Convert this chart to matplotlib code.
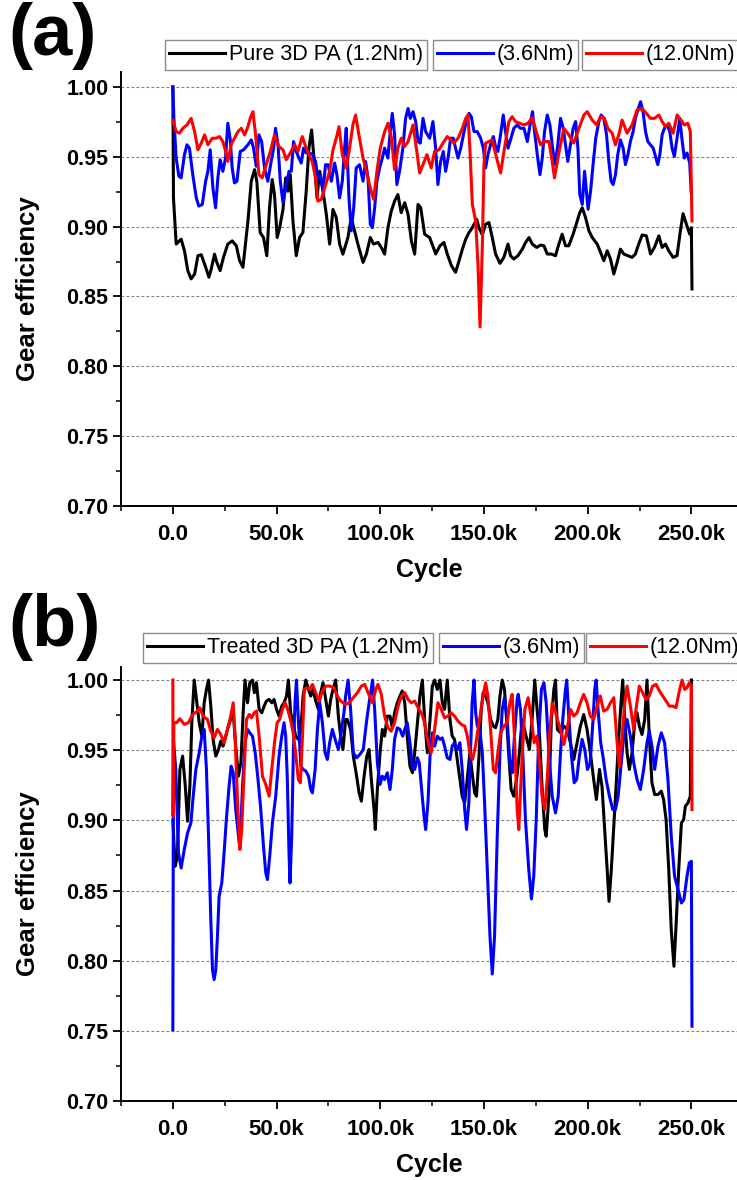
import numpy as np
import matplotlib
matplotlib.use("Agg")
import matplotlib.pyplot as plt
from matplotlib.ticker import MultipleLocator, FuncFormatter

plt.rcParams['font.family'] = ['Liberation Sans', 'DejaVu Sans']

# ---------------- (a) Pure 3D PA ----------------
a_black_k = [0.0, 0.3, 1.6, 3.2, 4.0, 5.6, 7.2, 8.8, 10.5, 12.1, 13.7, 15.3, 17.4, 18.5, 20.1, 21.2,
             22.8, 24.4, 26.5, 28.6, 30.6, 32.2, 33.8, 36.2, 37.8, 39.4, 40.5, 42.1, 43.7, 45.3, 46.6,
             47.9, 49.0, 50.3, 51.5, 53.1, 54.4, 55.5, 56.6, 57.9, 59.5, 61.1, 62.7, 64.3, 65.6, 66.9,
             68.3, 69.5, 70.8, 72.4, 74.0, 75.6, 77.2, 78.8, 80.4, 82.0, 84.4, 86.0, 87.6, 89.2, 91.7,
             93.3, 95.2, 96.8, 98.9, 100.5, 102.1, 103.7, 105.3, 106.9, 108.5, 110.1, 111.8, 113.4,
             115.0, 116.6, 118.2, 119.5, 121.4, 123.8, 126.2, 126.7, 128.8, 130.7, 132.3, 134.3, 136.3,
             138.0, 139.6, 141.2, 142.8, 144.4, 146.5, 147.6, 149.2, 150.8, 152.4, 154.0, 155.6, 157.7,
             159.6, 161.6, 162.8, 164.4, 166.4, 168.5, 170.1, 171.7, 173.3, 175.4, 177.3, 178.9, 180.5,
             182.4, 184.5, 186.1, 187.7, 189.3, 190.9, 193.0, 195.0, 196.2, 197.4, 199.0, 200.6, 202.2,
             204.6, 206.5, 207.8, 209.4, 211.0, 212.6, 214.2, 215.8, 217.4, 219.4, 221.4, 223.0, 224.6,
             226.3, 228.3, 230.3, 232.2, 234.3, 235.9, 237.5, 239.1, 241.2, 243.1, 244.7, 246.0, 247.6,
             249.2, 250.0, 250.3]
a_black = [1.000, 0.9206, 0.8875, 0.8898, 0.8910, 0.8827, 0.8685, 0.8626, 0.8661, 0.8792, 0.8799,
           0.8732, 0.8638, 0.8697, 0.8803, 0.8744, 0.8685, 0.8780, 0.8875, 0.8898, 0.8863, 0.8756,
           0.8709, 0.9040, 0.9325, 0.9408, 0.9325, 0.8958, 0.8922, 0.8792, 0.9135, 0.9337, 0.9230,
           0.8922, 0.8993, 0.9123, 0.9349, 0.9254, 0.9372, 0.9040, 0.8792, 0.8922, 0.8958, 0.9254,
           0.9562, 0.9692, 0.9443, 0.9206, 0.9396, 0.9254, 0.9088, 0.8875, 0.9123, 0.9064, 0.8875,
           0.8803, 0.8922, 0.9064, 0.8970, 0.8875, 0.8744, 0.8803, 0.8922, 0.8875, 0.8887, 0.8851,
           0.8803, 0.8993, 0.9111, 0.9182, 0.9230, 0.9100, 0.9171, 0.9088, 0.8898, 0.8803, 0.9159,
           0.9135, 0.8946, 0.8922, 0.8827, 0.8804, 0.8863, 0.8887, 0.8804, 0.8721, 0.8673, 0.8756,
           0.8839, 0.8910, 0.8958, 0.8993, 0.9052, 0.8993, 0.8941, 0.9017, 0.9029, 0.8922, 0.8804,
           0.8737, 0.8780, 0.8875, 0.8792, 0.8768, 0.8792, 0.8839, 0.8887, 0.8922, 0.8875, 0.8851,
           0.8868, 0.8863, 0.8804, 0.8804, 0.8792, 0.8875, 0.8946, 0.8863, 0.8863, 0.8946, 0.9041,
           0.9100, 0.9135, 0.9064, 0.8970, 0.8922, 0.8875, 0.8804, 0.8756, 0.8827, 0.8768, 0.8661,
           0.8744, 0.8839, 0.8804, 0.8792, 0.8780, 0.8804, 0.8875, 0.8941, 0.8934, 0.8804, 0.8851,
           0.8934, 0.8851, 0.8875, 0.8827, 0.8780, 0.8792, 0.8970, 0.9093, 0.9017, 0.8946, 0.8993,
           0.8554]

a_blue_k = [0.0, 0.5, 1.6, 2.9, 4.0, 5.6, 6.8, 8.0, 9.6, 11.3, 12.5, 14.2, 15.8, 16.9, 18.0, 19.3,
            20.6, 21.7, 22.8, 24.1, 25.4, 26.5, 27.7, 28.6, 29.7, 30.9, 32.5, 34.1, 36.2, 37.8, 38.9,
            40.2, 41.5, 42.8, 44.2, 45.8, 47.4, 48.6, 49.5, 50.7, 51.8, 53.1, 54.4, 56.0, 57.1, 58.2,
            59.5, 60.8, 61.9, 63.0, 64.3, 65.9, 67.5, 68.8, 69.9, 71.1, 72.4, 73.6, 74.9, 76.4, 78.0,
            79.1, 80.4, 81.7, 82.8, 83.6, 84.9, 86.0, 87.2, 88.4, 90.0, 91.7, 92.9, 94.1, 95.2, 96.2,
            97.3, 98.4, 99.7, 101.0, 102.1, 103.7, 104.8, 105.8, 106.9, 108.0, 109.3, 110.9, 112.2,
            113.4, 114.5, 115.8, 117.1, 118.2, 119.3, 120.6, 121.9, 123.8, 125.4, 126.7, 127.8, 129.1,
            130.4, 131.5, 132.7, 133.9, 135.2, 136.3, 137.5, 138.8, 140.4, 141.6, 142.8, 143.9, 145.2,
            146.8, 148.4, 149.7, 150.8, 151.9, 153.2, 154.5, 155.6, 156.7, 158.0, 159.3, 160.4, 161.6,
            162.8, 164.4, 166.0, 167.6, 169.3, 170.9, 172.2, 173.4, 174.4, 175.7, 177.0, 178.1, 179.2,
            180.5, 181.8, 183.1, 184.4, 185.6, 186.9, 188.2, 189.3, 190.4, 191.7, 193.0, 194.2, 195.3,
            196.2, 197.4, 198.5, 199.4, 200.2, 201.4, 202.6, 203.9, 205.4, 206.5, 207.8, 209.1, 210.2,
            211.3, 212.3, 213.4, 214.5, 215.8, 217.1, 218.2, 219.4, 220.6, 221.9, 223.0, 224.2, 225.5,
            226.7, 227.9, 229.0, 230.3, 231.6, 232.7, 233.8, 234.8, 235.9, 237.0, 238.3, 239.6, 240.7,
            241.8, 243.1, 244.4, 245.5, 246.6, 247.9, 249.2, 249.9]
a_blue = [1.000, 0.9775, 0.9491, 0.9361, 0.9349, 0.9515, 0.9586, 0.9562, 0.9372, 0.9206, 0.9147,
          0.9159, 0.9325, 0.9396, 0.9550, 0.9277, 0.9135, 0.9349, 0.9479, 0.9396, 0.9491, 0.9740,
          0.9621, 0.9420, 0.9313, 0.9325, 0.9538, 0.9550, 0.9586, 0.9621, 0.9562, 0.9432, 0.9657,
          0.9609, 0.9420, 0.9325, 0.9467, 0.9562, 0.9704, 0.9586, 0.9325, 0.9171, 0.9277, 0.9396,
          0.9396, 0.9609, 0.9538, 0.9491, 0.9455, 0.9562, 0.9527, 0.9527, 0.9515, 0.9467, 0.9349,
          0.9372, 0.9254, 0.9443, 0.9443, 0.9325, 0.9455, 0.9372, 0.9206, 0.9325, 0.9562, 0.9704,
          0.9206, 0.8970, 0.9135, 0.9420, 0.9443, 0.9325, 0.9467, 0.9349, 0.9017, 0.8993, 0.9135,
          0.9325, 0.9420, 0.9491, 0.9562, 0.9491, 0.9680, 0.9811, 0.9657, 0.9301, 0.9396, 0.9562,
          0.9775, 0.9846, 0.9775, 0.9823, 0.9752, 0.9609, 0.9598, 0.9775, 0.9680, 0.9633, 0.9752,
          0.9562, 0.9301, 0.9467, 0.9538, 0.9396, 0.9491, 0.9633, 0.9633, 0.9562, 0.9491, 0.9562,
          0.9680, 0.9763, 0.9811, 0.9787, 0.9680, 0.9680, 0.9633, 0.9562, 0.9420, 0.9515, 0.9586,
          0.9645, 0.9574, 0.9538, 0.9657, 0.9799, 0.9680, 0.9562, 0.9621, 0.9704, 0.9728, 0.9704,
          0.9704, 0.9609, 0.9728, 0.9823, 0.9680, 0.9515, 0.9372, 0.9491, 0.9680, 0.9799, 0.9728,
          0.9562, 0.9444, 0.9586, 0.9775, 0.9704, 0.9586, 0.9467, 0.9586, 0.9704, 0.9752, 0.9562,
          0.9230, 0.9159, 0.9396, 0.9254, 0.9124, 0.9254, 0.9444, 0.9633, 0.9752, 0.9799, 0.9775,
          0.9657, 0.9467, 0.9325, 0.9301, 0.9372, 0.9515, 0.9621, 0.9562, 0.9444, 0.9515, 0.9609,
          0.9680, 0.9775, 0.9835, 0.9894, 0.9823, 0.9680, 0.9609, 0.9586, 0.9562, 0.9503, 0.9444,
          0.9515, 0.9657, 0.9704, 0.9728, 0.9680, 0.9562, 0.9503, 0.9633, 0.9775, 0.9621, 0.9491,
          0.9527, 0.9455, 0.9254]

a_red_k = [0.0, 1.6, 3.2, 4.8, 6.8, 8.8, 10.5, 12.1, 13.7, 15.3, 16.9, 19.0, 20.9, 22.5, 24.1, 25.7,
           26.5, 28.1, 29.7, 31.4, 33.0, 34.6, 36.2, 37.3, 38.6, 39.9, 41.5, 43.1, 45.0, 47.0, 49.0,
           51.1, 53.1, 54.7, 56.6, 58.7, 60.3, 62.4, 64.0, 65.6, 67.2, 68.8, 69.9, 71.6, 73.2, 75.6,
           77.2, 78.8, 80.1, 81.7, 83.6, 85.2, 86.8, 88.1, 89.7, 91.7, 93.3, 95.2, 96.8, 98.4, 100.0,
           102.1, 103.7, 105.3, 106.9, 108.5, 110.1, 111.8, 113.4, 115.8, 117.4, 119.0, 120.9, 122.5,
           124.6, 126.2, 128.3, 130.7, 132.3, 133.9, 135.5, 137.5, 139.6, 141.2, 142.3, 143.2, 144.4,
           146.0, 147.1, 148.1, 149.2, 150.0, 150.8, 152.4, 154.0, 156.1, 158.0, 159.9, 162.0, 163.6,
           165.2, 167.3, 169.3, 171.2, 173.3, 175.4, 177.3, 178.9, 181.3, 182.9, 184.0, 186.1, 188.5,
           190.9, 193.3, 195.8, 198.2, 199.8, 202.2, 204.3, 206.2, 208.1, 209.7, 211.8, 213.4, 215.0,
           216.6, 219.0, 221.4, 223.8, 226.3, 228.3, 230.3, 232.2, 234.3, 235.9, 237.5, 239.1, 241.2,
           243.1, 245.0, 246.6, 248.3, 249.5, 250.3]
a_red = [0.9763, 0.9680, 0.9669, 0.9704, 0.9728, 0.9775, 0.9680, 0.9550, 0.9598, 0.9657, 0.9586,
         0.9633, 0.9633, 0.9645, 0.9609, 0.9527, 0.9467, 0.9586, 0.9633, 0.9680, 0.9704, 0.9657,
         0.9716, 0.9775, 0.9823, 0.9657, 0.9372, 0.9349, 0.9443, 0.9538, 0.9657, 0.9574, 0.9550,
         0.9479, 0.9527, 0.9586, 0.9538, 0.9645, 0.9574, 0.9515, 0.9467, 0.9349, 0.9183, 0.9195,
         0.9277, 0.9396, 0.9550, 0.9633, 0.9716, 0.9515, 0.9420, 0.9562, 0.9728, 0.9799, 0.9657,
         0.9491, 0.9396, 0.9277, 0.9195, 0.9396, 0.9562, 0.9680, 0.9740, 0.9645, 0.9408, 0.9562,
         0.9633, 0.9574, 0.9609, 0.9728, 0.9562, 0.9384, 0.9455, 0.9515, 0.9420, 0.9538, 0.9550,
         0.9609, 0.9645, 0.9621, 0.9598, 0.9633, 0.9704, 0.9775, 0.9799, 0.9562, 0.9159, 0.9041,
         0.8732, 0.8282, 0.8851, 0.9444, 0.9598, 0.9609, 0.9621, 0.9491, 0.9384, 0.9562, 0.9752,
         0.9787, 0.9752, 0.9740, 0.9728, 0.9740, 0.9780, 0.9669, 0.9586, 0.9609, 0.9609, 0.9467,
         0.9349, 0.9527, 0.9704, 0.9657, 0.9598, 0.9704, 0.9799, 0.9823, 0.9763, 0.9728, 0.9787,
         0.9775, 0.9704, 0.9669, 0.9586, 0.9657, 0.9763, 0.9669, 0.9728, 0.9835, 0.9846, 0.9811,
         0.9775, 0.9775, 0.9799, 0.9752, 0.9716, 0.9740, 0.9669, 0.9799, 0.9763, 0.9728, 0.9740,
         0.9680, 0.9041]

# ---------------- (b) Treated 3D PA ----------------
b_black_k = [0.0, 1.1, 2.2, 3.4, 4.7, 6.0, 7.1, 8.2, 9.2, 10.3, 11.4, 12.7, 14.0, 15.1, 16.2, 17.2,
             18.3, 19.4, 20.7, 22.0, 23.1, 24.2, 25.5, 26.8, 27.9, 29.1, 30.3, 31.6, 32.8, 33.9, 34.8,
             36.0, 37.1, 38.4, 39.3, 40.3, 41.6, 42.9, 44.0, 45.1, 46.4, 47.7, 48.8, 50.0, 51.2, 52.5,
             53.6, 54.8, 55.7, 56.8, 58.0, 59.2, 60.5, 61.7, 62.8, 64.1, 65.4, 66.5, 67.6, 68.9, 70.2,
             71.3, 72.4, 73.7, 75.0, 76.1, 77.2, 78.5, 79.8, 80.9, 82.0, 83.3, 84.1, 85.7, 87.0, 88.6,
             89.8, 90.9, 92.2, 93.5, 94.6, 95.7, 97.0, 97.6, 98.6, 99.9, 101.0, 102.1, 103.4, 104.7,
             105.8, 106.9, 108.2, 109.5, 110.6, 111.8, 113.0, 114.3, 115.5, 116.6, 117.9, 119.1, 120.3,
             121.4, 122.7, 124.0, 125.1, 126.2, 127.5, 128.8, 129.9, 131.0, 132.3, 133.6, 134.7, 135.8,
             137.1, 138.4, 139.5, 140.7, 141.9, 143.2, 144.3, 145.5, 146.4, 147.6, 148.7, 149.6, 150.8,
             151.9, 153.2, 154.5, 155.6, 156.7, 157.7, 158.8, 159.9, 160.9, 162.0, 163.1, 164.4, 165.7,
             166.8, 168.4, 170.3, 171.9, 173.2, 174.5, 175.6, 176.8, 178.0, 179.3, 180.0, 181.3, 182.5,
             183.7, 184.5, 185.4, 186.9, 188.5, 190.1, 191.7, 193.3, 194.9, 196.5, 198.1, 199.7, 201.3,
             202.9, 204.2, 205.7, 206.9, 208.2, 209.4, 210.3, 211.4, 212.6, 213.7, 215.0, 216.3, 216.9,
             217.9, 219.0, 220.1, 221.4, 222.7, 223.8, 224.9, 226.2, 227.5, 228.6, 229.7, 231.0, 232.3,
             233.9, 235.5, 236.6, 237.8, 239.1, 240.3, 241.6, 242.6, 243.9, 245.2, 246.3, 247.1, 248.4,
             249.5, 250.0]
b_black = [0.900, 0.8673, 0.8744, 0.9363, 0.9458, 0.9244, 0.8994, 0.9244, 0.9719, 1.000, 0.9862,
           0.9696, 0.9600, 0.9838, 0.9933, 1.000, 0.9814, 0.9577, 0.9458, 0.9505, 0.9565, 0.9529,
           0.9600, 0.9672, 0.9719, 0.9767, 0.9529, 0.9315, 0.9410, 0.9767, 1.000, 0.9838, 0.9981,
           1.000, 0.9910, 0.9981, 0.9791, 0.9767, 0.9814, 0.9850, 0.9862, 0.9838, 0.9862, 0.9791,
           0.9743, 0.9814, 0.9838, 0.9886, 1.000, 0.9767, 0.9696, 0.9600, 0.9577, 0.9648, 0.9886,
           1.000, 0.9933, 0.9886, 0.9933, 0.9850, 0.9791, 0.9910, 0.9981, 0.9862, 0.9743, 0.9862,
           0.9933, 1.000, 0.9743, 0.9600, 0.9505, 0.9719, 0.9719, 0.9648, 0.9458, 0.9315, 0.9196,
           0.9137, 0.9315, 0.9458, 0.9505, 0.9291, 0.9077, 0.8935, 0.9220, 0.9482, 0.9648, 0.9600,
           0.9743, 0.9743, 0.9660, 0.9767, 0.9838, 0.9886, 0.9922, 0.9838, 0.9600, 0.9386, 0.9339,
           0.9482, 0.9696, 0.9886, 1.000, 0.9719, 0.9482, 0.9719, 0.9957, 1.000, 0.9933, 1.000,
           0.9838, 0.9791, 1.000, 0.9719, 0.9600, 0.9577, 0.9434, 0.9291, 0.9172, 0.9125, 0.9291,
           0.9482, 0.9339, 0.9196, 0.9172, 0.9458, 0.9791, 0.9910, 0.9886, 0.9838, 0.9719, 0.9672,
           0.9660, 0.9719, 0.9886, 1.000, 0.9933, 0.9719, 0.9458, 0.9220, 0.9172, 0.9291, 0.9434,
           0.9719, 0.9600, 0.9505, 0.9719, 1.000, 0.9791, 0.9600, 0.9244, 0.8935, 0.8887, 0.9172,
           0.9719, 0.9933, 1.000, 0.9648, 0.9624, 0.9672, 0.9648, 0.9553, 0.9434, 0.9553, 0.9672,
           0.9755, 0.9648, 0.9482, 0.9291, 0.9149, 0.9363, 0.9244, 0.8935, 0.8649, 0.8423, 0.8649,
           0.8958, 0.9244, 0.9600, 0.9886, 1.000, 0.9719, 0.9482, 0.9363, 0.9482, 0.9696, 0.9767,
           0.9672, 0.9612, 0.9719, 1.000, 0.9600, 0.9268, 0.9184, 0.9184, 0.9208, 0.9149, 0.9006,
           0.8649, 0.8221, 0.7960, 0.8245, 0.8649, 0.8982, 0.9006, 0.9101, 0.9125, 0.9172, 1.000]

b_blue_k = [0.0, 0.3, 1.4, 2.7, 4.0, 5.5, 7.1, 8.7, 9.8, 11.1, 12.7, 14.0, 15.1, 16.2, 17.2, 18.3,
            19.1, 19.9, 20.7, 21.5, 22.3, 23.6, 24.7, 25.8, 27.1, 28.1, 29.1, 30.3, 31.3, 32.3, 33.6,
            34.8, 36.0, 37.1, 38.4, 39.7, 40.9, 42.4, 43.7, 44.8, 45.6, 46.7, 48.0, 49.6, 51.2, 52.5,
            53.6, 54.4, 55.2, 56.0, 56.5, 57.3, 58.1, 58.9, 59.6, 60.5, 61.7, 62.8, 64.1, 65.4, 66.5,
            67.3, 68.6, 69.7, 70.8, 72.1, 73.4, 74.5, 75.6, 76.9, 78.5, 79.8, 80.9, 82.5, 83.3, 84.5,
            85.7, 87.0, 88.6, 90.2, 91.8, 93.5, 95.1, 96.3, 97.3, 98.6, 99.9, 101.0, 102.1, 103.4,
            104.7, 105.8, 106.9, 108.2, 109.5, 110.8, 111.8, 113.0, 114.3, 115.5, 116.6, 117.9, 118.8,
            119.8, 121.1, 121.9, 123.0, 124.0, 125.1, 126.2, 127.5, 128.8, 129.9, 131.0, 132.3, 133.6,
            134.7, 135.8, 137.1, 138.4, 139.5, 140.7, 141.6, 142.7, 143.5, 144.3, 145.2, 146.0, 146.8,
            148.0, 149.2, 150.3, 151.6, 152.9, 154.0, 155.1, 156.4, 157.7, 158.8, 159.9, 161.2, 162.5,
            163.6, 164.7, 166.0, 166.5, 167.6, 168.7, 170.0, 171.6, 172.9, 174.0, 175.2, 176.4, 177.7,
            178.9, 180.0, 181.3, 182.9, 184.5, 185.8, 186.9, 188.0, 189.3, 189.9, 190.9, 192.2, 193.5,
            194.7, 196.0, 197.3, 198.6, 199.9, 201.2, 202.5, 203.4, 204.1, 205.0, 206.3, 207.6, 208.9,
            210.5, 212.1, 213.4, 214.7, 215.9, 217.4, 219.0, 220.6, 222.2, 223.8, 225.4, 227.0, 228.6,
            229.7, 231.0, 232.3, 233.9, 235.5, 237.1, 238.7, 240.3, 241.9, 243.6, 245.2, 246.4, 247.9,
            249.0, 250.0, 250.3]
b_blue = [0.7507, 0.9577, 0.9363, 0.8768, 0.8661, 0.8792, 0.8911, 0.8982, 0.9172, 0.9363, 0.9482,
          0.9600, 0.9648, 0.9363, 0.8887, 0.8292, 0.7936, 0.7865, 0.7936, 0.8174, 0.8459, 0.8554,
          0.8768, 0.9006, 0.9244, 0.9386, 0.9339, 0.9077, 0.8935, 0.8800, 0.9244, 0.9553, 0.9648,
          0.9624, 0.9600, 0.9482, 0.9315, 0.9077, 0.8815, 0.8626, 0.8578, 0.8744, 0.8982, 0.9172,
          0.9458, 0.9600, 0.9696, 0.9600, 0.9291, 0.8768, 0.8554, 0.8887, 0.9482, 0.9838, 1.000,
          0.9719, 0.9386, 0.9363, 0.9351, 0.9315, 0.9220, 0.9196, 0.9363, 0.9648, 0.9838, 0.9696,
          0.9482, 0.9434, 0.9553, 0.9648, 0.9565, 0.9505, 0.9600, 0.9767, 0.9886, 1.000, 0.9791,
          0.9482, 0.9446, 0.9470, 0.9505, 0.9719, 0.9886, 1.000, 0.9791, 0.9410, 0.9256, 0.9315,
          0.9291, 0.9339, 0.9220, 0.9363, 0.9577, 0.9660, 0.9648, 0.9600, 0.9648, 0.9696, 0.9553,
          0.9386, 0.9363, 0.9446, 0.9410, 0.9244, 0.9030, 0.8935, 0.9125, 0.9458, 0.9624, 0.9529,
          0.9600, 0.9577, 0.9588, 0.9529, 0.9446, 0.9434, 0.9529, 0.9553, 0.9505, 0.9553, 0.9363,
          0.9077, 0.8935, 0.9125, 0.9482, 0.9838, 1.000, 0.9767, 0.9672, 0.9648, 0.9482, 0.9125,
          0.8649, 0.8174, 0.7905, 0.8174, 0.8887, 0.9482, 0.9791, 0.9874, 0.9719, 0.9410, 0.9339,
          0.9600, 0.9862, 0.9898, 0.9791, 0.9482, 0.9006, 0.8649, 0.8440, 0.8602, 0.9006, 0.9600,
          0.9933, 0.9981, 0.9838, 0.9482, 0.9172, 0.9053, 0.9172, 0.9482, 0.9719, 0.9933, 1.000,
          0.9743, 0.9458, 0.9268, 0.9291, 0.9458, 0.9577, 0.9505, 0.9363, 0.9410, 0.9696, 0.9933,
          1.000, 0.9791, 0.9553, 0.9434, 0.9291, 0.9172, 0.9077, 0.9077, 0.9172, 0.9363, 0.9600,
          0.9719, 0.9600, 0.9410, 0.9291, 0.9220, 0.9363, 0.9553, 0.9636, 0.9529, 0.9363, 0.9529,
          0.9624, 0.9553, 0.9291, 0.8887, 0.8602, 0.8506, 0.8411, 0.8435, 0.8602, 0.8697, 0.8709,
          0.7533]

b_red_k = [0.0, 0.1, 0.5, 1.8, 3.4, 5.5, 7.5, 9.5, 11.9, 13.0, 14.6, 16.7, 18.3, 19.9, 21.5, 23.1,
           24.7, 26.3, 27.9, 29.1, 30.0, 31.2, 32.3, 33.2, 34.4, 35.5, 36.8, 38.0, 39.2, 40.3, 41.6,
           43.2, 44.8, 46.4, 47.7, 49.0, 50.3, 51.5, 52.8, 54.1, 55.4, 56.7, 58.0, 59.2, 60.5, 61.5,
           62.5, 63.4, 64.7, 66.0, 67.3, 68.9, 70.5, 72.1, 73.7, 75.6, 77.7, 79.3, 80.9, 83.3, 85.0,
           87.0, 89.0, 90.9, 92.5, 94.1, 96.2, 97.8, 98.9, 100.5, 102.1, 103.7, 105.3, 106.9, 108.6,
           110.2, 111.8, 113.4, 115.0, 116.6, 118.2, 119.8, 121.4, 123.0, 124.6, 126.2, 127.8, 129.4,
           131.0, 132.6, 134.2, 135.8, 137.5, 139.1, 140.7, 142.0, 143.2, 144.5, 145.9, 147.1, 148.4,
           149.6, 150.8, 151.9, 153.2, 154.5, 155.6, 156.7, 158.0, 159.6, 161.2, 162.5, 163.6, 164.7,
           166.0, 166.8, 168.1, 169.7, 171.3, 172.9, 174.2, 175.5, 176.8, 178.0, 179.3, 180.5, 181.6,
           182.9, 184.1, 185.4, 186.9, 188.5, 190.1, 191.7, 193.3, 194.9, 196.5, 198.1, 199.7, 201.3,
           202.9, 204.5, 206.1, 207.7, 209.4, 211.0, 212.6, 214.2, 215.3, 216.6, 217.9, 219.0, 220.6,
           222.2, 223.3, 224.9, 226.5, 228.1, 229.7, 231.3, 233.0, 234.6, 236.2, 237.8, 239.4, 241.0,
           242.6, 244.2, 245.5, 246.8, 247.9, 249.0, 250.0, 250.3]
b_red = [1.000, 0.9030, 0.9696, 0.9696, 0.9724, 0.9684, 0.9696, 0.9755, 0.9779, 0.9803, 0.9743,
         0.9719, 0.9636, 0.9588, 0.9648, 0.9612, 0.9553, 0.9648, 0.9743, 0.9838, 0.9600, 0.9125,
         0.8792, 0.8935, 0.9363, 0.9719, 0.9755, 0.9731, 0.9767, 0.9779, 0.9600, 0.9315, 0.9256,
         0.9172, 0.9363, 0.9553, 0.9696, 0.9719, 0.9791, 0.9838, 0.9791, 0.9719, 0.9624, 0.9482,
         0.9291, 0.9268, 0.9600, 0.9933, 0.9945, 0.9933, 0.9969, 0.9910, 0.9850, 0.9922, 0.9957,
         0.9957, 0.9945, 0.9886, 0.9850, 0.9826, 0.9838, 0.9874, 0.9910, 0.9957, 0.9969, 0.9910,
         0.9838, 0.9933, 0.9969, 0.9898, 0.9743, 0.9660, 0.9636, 0.9696, 0.9814, 0.9886, 0.9910,
         0.9862, 0.9838, 0.9850, 0.9803, 0.9767, 0.9696, 0.9553, 0.9482, 0.9648, 0.9838, 0.9791,
         0.9731, 0.9743, 0.9767, 0.9743, 0.9707, 0.9684, 0.9672, 0.9600, 0.9482, 0.9434, 0.9529,
         0.9648, 0.9767, 0.9886, 0.9981, 0.9886, 0.9648, 0.9363, 0.9339, 0.9482, 0.9624, 0.9672,
         0.9696, 0.9838, 0.9898, 0.9600, 0.9077, 0.8935, 0.9363, 0.9791, 0.9874, 0.9719, 0.9553,
         0.9600, 0.9410, 0.9172, 0.9077, 0.9291, 0.9600, 0.9838, 0.9791, 0.9719, 0.9648, 0.9541,
         0.9648, 0.9791, 0.9743, 0.9767, 0.9838, 0.9898, 0.9838, 0.9743, 0.9719, 0.9814, 0.9886,
         0.9779, 0.9791, 0.9838, 0.9874, 0.9553, 0.9386, 0.9600, 0.9838, 0.9957, 0.9814, 0.9648,
         0.9791, 0.9957, 0.9910, 0.9862, 0.9886, 0.9957, 0.9969, 0.9922, 0.9886, 0.9850, 0.9814,
         0.9814, 0.9803, 0.9922, 1.000, 0.9933, 0.9945, 0.9981, 0.9957, 0.9077]

x_major = [0, 50000, 100000, 150000, 200000, 250000]
y_ticks = [0.70, 0.75, 0.80, 0.85, 0.90, 0.95, 1.00]

panels = [
    dict(tag="(a)", series=[("Pure 3D PA (1.2Nm)", a_black_k, a_black, "black"),
                            ("(3.6Nm)", a_blue_k, a_blue, "#0000ff"),
                            ("(12.0Nm)", a_red_k, a_red, "#ff0000")],
         top_px=72, ymax=1.0107, leg_top=40, leg_x=[165, 433, 582], tag_base=55),
    dict(tag="(b)", series=[("Treated 3D PA (1.2Nm)", b_black_k, b_black, "black"),
                            ("(3.6Nm)", b_blue_k, b_blue, "#0000ff"),
                            ("(12.0Nm)", b_red_k, b_red, "#ff0000")],
         top_px=667, ymax=1.0093, leg_top=633, leg_x=[143, 439, 586], tag_base=646),
]

W, H = 737, 1180
fig = plt.figure(figsize=(W / 100, H / 100), dpi=100)

def kfmt(v, _):
    return "0.0" if abs(v) < 1 else f"{v / 1000:.1f}k"

for p in panels:
    bottom_px = p["top_px"] + 434
    ax = fig.add_axes([121 / W, 1 - bottom_px / H, 1 - 121 / W, 434 / H])
    lines = []
    for label, xk, y, c in p["series"]:
        ln, = ax.plot(np.asarray(xk) * 1000, y, color=c, lw=2.2, label=label,
                      solid_joinstyle="round", zorder=3)
        lines.append(ln)
    ax.set_xlim(-25000, 272000)
    ax.set_ylim(0.70, p["ymax"])
    ax.set_xticks(x_major)
    ax.xaxis.set_minor_locator(MultipleLocator(25000))
    ax.xaxis.set_major_formatter(FuncFormatter(kfmt))
    ax.set_yticks(y_ticks)
    ax.yaxis.set_minor_locator(MultipleLocator(0.025))
    ax.yaxis.set_major_formatter(FuncFormatter(lambda v, _: f"{v:.2f}"))
    for s in ("top", "right"):
        ax.spines[s].set_visible(False)
    for s in ("left", "bottom"):
        ax.spines[s].set_linewidth(1.4)
    ax.tick_params(which="major", direction="out", length=6, width=1.3, pad=3,
                   labelsize=15.5)
    ax.tick_params(which="minor", direction="out", length=3.5, width=1.1)
    ax.tick_params(axis="x", which="major", pad=7, labelsize=16)
    for t in ax.get_xticklabels() + ax.get_yticklabels():
        t.set_fontweight("bold")
    ax.yaxis.grid(True, which="major", linestyle=(0, (2.5, 2)), color="#808080", lw=0.8)
    ax.set_axisbelow(True)
    ax.set_xlabel("Cycle", fontsize=18, fontweight="bold", labelpad=9)
    ax.set_ylabel("Gear efficiency", fontsize=18.5, fontweight="bold")
    ax.yaxis.set_label_coords(-0.132, 0.5)

    for ln, lx in zip(lines, p["leg_x"]):
        leg = fig.legend(handles=[ln], loc="upper left",
                         bbox_to_anchor=(lx / W, 1 - p["leg_top"] / H),
                         frameon=True, fancybox=False, framealpha=1,
                         edgecolor="#8c8c8c", fontsize=15.5, borderpad=0.2,
                         handlelength=2.6, handletextpad=0.15, borderaxespad=0)
        leg.get_frame().set_linewidth(1.0)

    fig.text(8 / W, 1 - p["tag_base"] / H, p["tag"], fontsize=52, fontweight="bold",
             ha="left", va="baseline")

fig.savefig("out.png", dpi=100)
